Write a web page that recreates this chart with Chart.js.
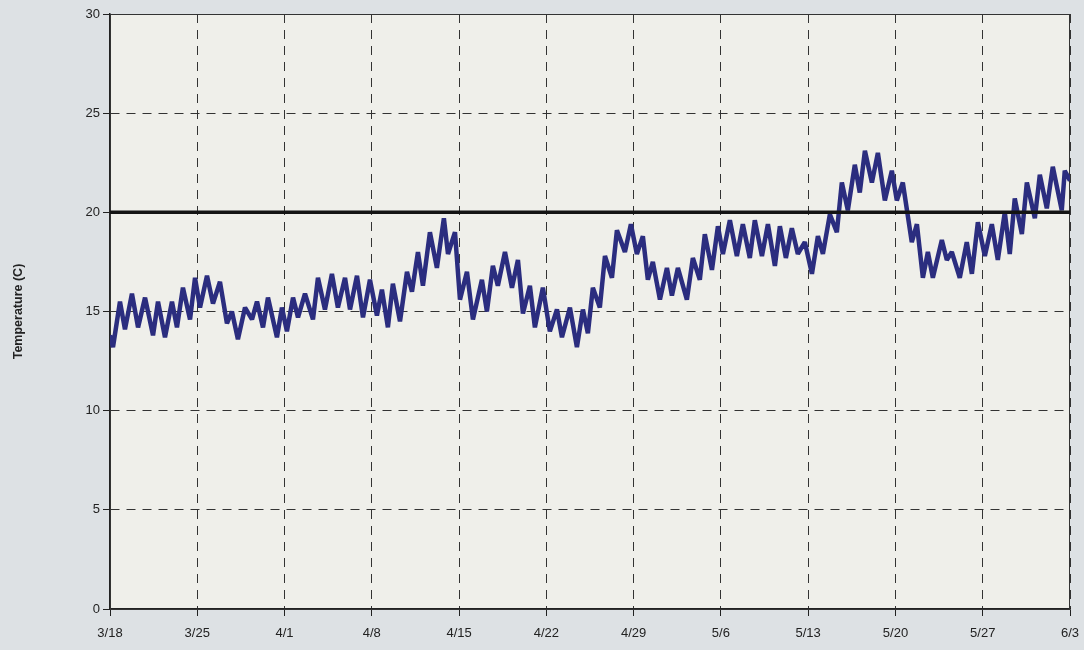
<!DOCTYPE html>
<html>
<head>
<meta charset="utf-8">
<script src="https://cdn.jsdelivr.net/npm/chart.js@4.4.1/dist/chart.umd.min.js"></script>
<style>
  html, body { margin: 0; padding: 0; background: #dde1e4; }
  #wrap { width: 1084px; height: 650px; }
</style>
</head>
<body>
<div id="wrap"><canvas id="tempChart"></canvas></div>
<script>
// days since 3/18 (daily highs and lows)
const days = [
  0.0, 0.24, 0.80, 1.20, 1.76, 2.25, 2.81, 3.45, 3.85, 4.41,
  4.97, 5.37, 5.85, 6.42, 6.82, 7.22, 7.78, 8.26, 8.82, 9.38,
  9.78, 10.26, 10.83, 11.39, 11.79, 12.27, 12.67, 13.39, 13.79, 14.19, 14.68,
  15.08, 15.64, 16.28, 16.68, 17.24, 17.80, 18.28, 18.85, 19.25, 19.81,
  20.29, 20.85, 21.41, 21.81, 22.29, 22.69, 23.26, 23.82, 24.22, 24.70,
  25.10, 25.66, 26.22, 26.78, 27.11, 27.67, 28.07, 28.63, 29.11, 29.83,
  30.23, 30.71, 31.11, 31.68, 32.24, 32.72, 33.12, 33.68, 34.08, 34.72,
  35.28, 35.85, 36.25, 36.89, 37.45, 37.93, 38.33, 38.73, 39.29, 39.70,
  40.26, 40.66, 41.30, 41.78, 42.26, 42.74, 43.14, 43.54, 44.11, 44.67,
  45.07, 45.55, 46.27, 46.75, 47.31, 47.71, 48.28, 48.76, 49.16, 49.72,
  50.28, 50.76, 51.32, 51.72, 52.29, 52.77, 53.33, 53.73, 54.21, 54.69,
  55.17, 55.73, 56.30, 56.78, 57.18, 57.74, 58.30, 58.70, 59.18, 59.74,
  60.14, 60.55, 61.11, 61.59, 62.15, 62.71, 63.11, 63.59, 64.31, 64.72,
  65.20, 65.60, 66.00, 66.72, 67.12, 67.52, 68.16, 68.72, 69.13, 69.61,
  70.17, 70.73, 71.21, 71.77, 72.17, 72.57, 73.14, 73.54, 74.18, 74.58,
  75.14, 75.62, 76.34, 76.58, 77.0
];

const temps = [
  13.8, 13.2, 15.5, 14.1, 15.9, 14.2, 15.7, 13.8, 15.5, 13.7,
  15.5, 14.2, 16.2, 14.6, 16.7, 15.2, 16.8, 15.4, 16.5, 14.4,
  15.0, 13.6, 15.2, 14.6, 15.5, 14.2, 15.7, 13.7, 15.2, 14.0, 15.7,
  14.7, 15.9, 14.6, 16.7, 15.1, 16.9, 15.2, 16.7, 15.1, 16.8,
  14.7, 16.6, 14.8, 16.1, 14.2, 16.4, 14.5, 17.0, 16.0, 18.0,
  16.3, 19.0, 17.2, 19.7, 17.9, 19.0, 15.6, 17.0, 14.6, 16.6,
  15.0, 17.3, 16.3, 18.0, 16.2, 17.6, 14.9, 16.3, 14.2, 16.2,
  14.0, 15.1, 13.7, 15.2, 13.2, 15.1, 13.9, 16.2, 15.2, 17.8,
  16.7, 19.1, 18.0, 19.4, 17.9, 18.8, 16.6, 17.5, 15.6, 17.2,
  15.8, 17.2, 15.6, 17.7, 16.6, 18.9, 17.1, 19.3, 17.9, 19.6,
  17.8, 19.4, 17.7, 19.6, 17.8, 19.4, 17.3, 19.3, 17.7, 19.2,
  17.9, 18.5, 16.9, 18.8, 17.9, 19.9, 19.0, 21.5, 20.1, 22.4,
  21.0, 23.1, 21.5, 23.0, 20.6, 22.1, 20.6, 21.5, 18.5, 19.4,
  16.7, 18.0, 16.7, 18.6, 17.6, 18.0, 16.7, 18.5, 16.9, 19.5,
  17.8, 19.4, 17.6, 20.0, 17.9, 20.7, 18.9, 21.5, 19.7, 21.9,
  20.2, 22.3, 20.1, 22.1, 21.6
];

const tickLabels = ['3/18', '3/25', '4/1', '4/8', '4/15', '4/22', '4/29', '5/6', '5/13', '5/20', '5/27', '6/3'];
const thresholdDays = [0, 77];
const thresholdTemps = [20, 20];

const FONT = "'Liberation Sans Narrow', 'Liberation Sans', Arial, sans-serif";

// plot background and solid box
const plotFrame = {
  id: 'plotFrame',
  beforeDraw(chart) {
    const { ctx, chartArea: a } = chart;
    ctx.save();
    ctx.fillStyle = '#dde1e4';
    ctx.fillRect(0, 0, chart.width, chart.height);
    ctx.fillStyle = '#efefea';
    ctx.fillRect(a.left, a.top, a.right - a.left, a.bottom - a.top);
    ctx.restore();
  },
  beforeDatasetsDraw(chart) {
    const { ctx, chartArea: a } = chart;
    ctx.save();
    ctx.strokeStyle = '#333';
    ctx.lineWidth = 1;
    ctx.strokeRect(a.left + 0.5, a.top + 0.5, a.right - a.left - 1, a.bottom - a.top);
    ctx.restore();
  }
};

const limitSet = {
  label: 'Limit',
  borderColor: '#141414',
  borderWidth: 3.5,
  pointRadius: 0,
  order: 0
};
limitSet.data = thresholdDays.map((d, i) => ({ x: d, y: thresholdTemps[i] }));

const tempSet = {
  label: 'Temperature',
  borderColor: '#2b2d7f',
  borderWidth: 4.5,
  borderJoinStyle: 'bevel',
  pointRadius: 0,
  tension: 0,
  order: 1
};
tempSet.data = days.map((d, i) => ({ x: d, y: temps[i] }));

const chartData = { datasets: [limitSet, tempSet] };

const config = {
  type: 'line',
  options: {
    responsive: true,
    maintainAspectRatio: false,
    animation: false,
    layout: { padding: { top: 14, right: 14, left: 0, bottom: 0 } },
    plugins: {
      legend: { display: false },
      tooltip: { enabled: false }
    },
    scales: {
      x: {
        type: 'linear',
        min: 0,
        max: 77,
        afterFit(scale) {
          scale.height = 41;
          scale.paddingLeft = 0;
          scale.paddingRight = 0;
        },
        ticks: {
          stepSize: 7,
          autoSkip: false,
          maxRotation: 0,
          padding: 10,
          color: '#222',
          font: { family: FONT, size: 13 },
          callback: (v) => tickLabels[Math.round(v / 7)]
        },
        grid: {
          color: '#333',
          lineWidth: 1,
          tickLength: 7,
          tickColor: '#222',
          tickBorderDash: []
        },
        border: { display: true, color: '#222', width: 1.5, dash: [9, 7] }
      },
      y: {
        min: 0,
        max: 30,
        afterFit(scale) { scale.width = 110; },
        ticks: {
          stepSize: 5,
          padding: 3,
          color: '#222',
          font: { family: FONT, size: 13 }
        },
        grid: {
          color: '#333',
          lineWidth: 1,
          tickLength: 7,
          tickColor: '#222',
          tickBorderDash: []
        },
        border: { display: true, color: '#222', width: 1.5, dash: [9, 7] },
        title: {
          display: true,
          text: 'Temperature (C)',
          color: '#222',
          font: { family: FONT, size: 12.5, weight: 'bold' },
          padding: { top: 11, bottom: 0 }
        }
      }
    }
  },
  plugins: [plotFrame]
};
config.data = chartData;

new Chart(document.getElementById('tempChart').getContext('2d'), config);
</script>
</body>
</html>
